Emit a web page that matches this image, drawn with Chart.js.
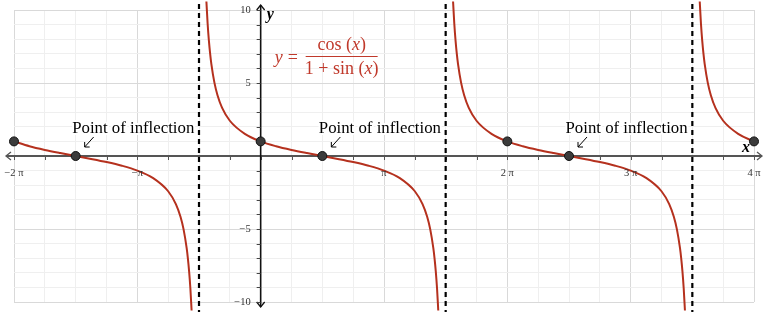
<!DOCTYPE html>
<html>
<head>
<meta charset="utf-8">
<script src="https://cdn.jsdelivr.net/npm/chart.js@4.4.1/dist/chart.umd.min.js"></script>
<style>
  html, body { margin: 0; padding: 0; background: #fff; }
  #wrap { width: 766px; height: 312px; }
</style>
</head>
<body>
<div id="wrap"><canvas id="plot"></canvas></div>
<script>
// x values are given in multiples of pi
const branch1X = [-2, -1.875, -1.75, -1.625, -1.5, -1.375, -1.25, -1.125, -1, -0.875, -0.75, -0.6875, -0.65, -0.625, -0.6, -0.59, -0.58, -0.57, -0.56];
const branch1Y = [1, 0.6682, 0.4142, 0.1989, 0, -0.1989, -0.4142, -0.6682, -1, -1.4966, -2.4142, -3.2966, -4.1653, -5.0273, -6.3138, -7.0264, -7.9158, -9.0579, -10.579];

const branch2X = [-0.44, -0.43, -0.42, -0.41, -0.4, -0.375, -0.35, -0.3125, -0.25, -0.125, 0, 0.125, 0.25, 0.375, 0.5, 0.625, 0.75, 0.875, 1, 1.125, 1.25, 1.3125, 1.35, 1.375, 1.4, 1.41, 1.42, 1.43, 1.44];
const branch2Y = [10.579, 9.0579, 7.9158, 7.0264, 6.3138, 5.0273, 4.1653, 3.2966, 2.4142, 1.4966, 1, 0.6682, 0.4142, 0.1989, 0, -0.1989, -0.4142, -0.6682, -1, -1.4966, -2.4142, -3.2966, -4.1653, -5.0273, -6.3138, -7.0264, -7.9158, -9.0579, -10.579];

const branch3X = [1.56, 1.57, 1.58, 1.59, 1.6, 1.625, 1.65, 1.6875, 1.75, 1.875, 2, 2.125, 2.25, 2.375, 2.5, 2.625, 2.75, 2.875, 3, 3.125, 3.25, 3.3125, 3.35, 3.375, 3.4, 3.41, 3.42, 3.43, 3.44];
const branch3Y = [10.579, 9.0579, 7.9158, 7.0264, 6.3138, 5.0273, 4.1653, 3.2966, 2.4142, 1.4966, 1, 0.6682, 0.4142, 0.1989, 0, -0.1989, -0.4142, -0.6682, -1, -1.4966, -2.4142, -3.2966, -4.1653, -5.0273, -6.3138, -7.0264, -7.9158, -9.0579, -10.579];

const branch4X = [3.56, 3.57, 3.58, 3.59, 3.6, 3.625, 3.65, 3.6875, 3.75, 3.875, 4];
const branch4Y = [10.579, 9.0579, 7.9158, 7.0264, 6.3138, 5.0273, 4.1653, 3.2966, 2.4142, 1.4966, 1];

const inflectionX = [-1.5, 0.5, 2.5];
const inflectionY = [0, 0, 0];
const dotX = [-2, 0, 2, 4];
const dotY = [1, 1, 1, 1];
const asymptoteX = [-0.5, 1.5, 3.5];

const xTickVals = [-2, -1, 1, 2, 3, 4];
const xTickLabels = ['\u22122 \u03c0', '\u2212\u03c0', '\u03c0', '2 \u03c0', '3 \u03c0', '4 \u03c0'];
const yTickVals = [10, 5, -5, -10];
const yTickLabels = ['10', '5', '\u22125', '\u221210'];
const noteText = 'Point of inflection';

const PI = Math.PI;
const toPts = (xs, ys) => xs.map((v, i) => ({ x: v * PI, y: ys[i] }));

const curveColor = '#b5311e';
const serif = "'Liberation Serif', 'DejaVu Serif', serif";

function curve(xs, ys) {
    return {
        data: toPts(xs, ys),
        showLine: true,
        borderColor: curveColor,
        borderWidth: 2,
        pointRadius: 0,
        cubicInterpolationMode: 'monotone',
        clip: false,
        order: 2
    };
}

const datasets = [];
asymptoteX.forEach(a => {
    datasets.push({
        data: [{ x: a * PI, y: -11.5 }, { x: a * PI, y: 11.5 }],
        showLine: true,
        borderColor: '#000',
        borderWidth: 2.2,
        borderDash: [5, 4],
        pointRadius: 0,
        clip: false,
        order: 3
    });
});
datasets.push(curve(branch1X, branch1Y));
datasets.push(curve(branch2X, branch2Y));
datasets.push(curve(branch3X, branch3Y));
datasets.push(curve(branch4X, branch4Y));
datasets.push({
    data: toPts(dotX.concat(inflectionX), dotY.concat(inflectionY)),
    showLine: false,
    pointRadius: 4.5,
    pointBackgroundColor: '#3b3b3b',
    pointBorderColor: '#111',
    pointBorderWidth: 1,
    clip: false,
    order: 1
});

function isMultiple(v, step) {
    const r = v / step;
    return Math.abs(r - Math.round(r)) < 1e-6;
}

// axes with arrows, small tick marks
const axesPlugin = {
    id: 'axes',
    beforeDatasetsDraw(chart) {
        const { ctx } = chart;
        const xs = chart.scales.x, ys = chart.scales.y;
        const x0 = xs.getPixelForValue(0), y0 = ys.getPixelForValue(0);
        const left = xs.left - 8, right = xs.right + 8;
        const top = ys.top - 5, bottom = ys.bottom + 5;
        ctx.save();

        // x axis
        ctx.strokeStyle = '#555';
        ctx.lineWidth = 2;
        ctx.beginPath();
        ctx.moveTo(left, y0); ctx.lineTo(right, y0);
        ctx.stroke();
        ctx.lineWidth = 1.3;
        ctx.beginPath();
        ctx.moveTo(left + 5, y0 - 4); ctx.lineTo(left, y0); ctx.lineTo(left + 5, y0 + 4);
        ctx.moveTo(right - 5, y0 - 4); ctx.lineTo(right, y0); ctx.lineTo(right - 5, y0 + 4);
        ctx.stroke();
        ctx.lineWidth = 1;
        ctx.beginPath();
        for (let k = -8; k <= 16; k++) {
            const px = Math.round(xs.getPixelForValue(k * PI / 4)) + 0.5;
            ctx.moveTo(px, y0); ctx.lineTo(px, y0 + 4);
        }
        ctx.stroke();

        // y axis
        ctx.strokeStyle = '#111';
        ctx.lineWidth = 1.6;
        ctx.beginPath();
        ctx.moveTo(x0, top); ctx.lineTo(x0, bottom);
        ctx.stroke();
        ctx.lineWidth = 1.3;
        ctx.beginPath();
        ctx.moveTo(x0 - 4, top + 5); ctx.lineTo(x0, top); ctx.lineTo(x0 + 4, top + 5);
        ctx.moveTo(x0 - 4, bottom - 5); ctx.lineTo(x0, bottom); ctx.lineTo(x0 + 4, bottom - 5);
        ctx.stroke();
        ctx.lineWidth = 1;
        ctx.strokeStyle = '#444';
        ctx.beginPath();
        for (let v = -10; v <= 10; v++) {
            if (v === 0) continue;
            const py = Math.round(ys.getPixelForValue(v)) + 0.5;
            ctx.moveTo(x0 - 4, py); ctx.lineTo(x0, py);
        }
        ctx.stroke();
        ctx.restore();
    }
};

function drawRich(ctx, parts, cx, baseline) {
    let total = 0;
    parts.forEach(p => { ctx.font = p[1]; total += ctx.measureText(p[0]).width; });
    let x = cx - total / 2;
    parts.forEach(p => {
        ctx.font = p[1];
        ctx.fillText(p[0], x, baseline);
        x += ctx.measureText(p[0]).width;
    });
    return total;
}

// tick labels, axis names, formula and notes
const labelsPlugin = {
    id: 'labels',
    afterDraw(chart) {
        const { ctx } = chart;
        const xs = chart.scales.x, ys = chart.scales.y;
        const x0 = xs.getPixelForValue(0), y0 = ys.getPixelForValue(0);
        ctx.save();

        ctx.fillStyle = '#333';
        ctx.font = '10.5px ' + serif;
        ctx.textAlign = 'center';
        ctx.textBaseline = 'middle';
        xTickVals.forEach((v, i) => {
            ctx.fillText(xTickLabels[i], xs.getPixelForValue(v * PI), y0 + 17);
        });
        ctx.textAlign = 'right';
        yTickVals.forEach((v, i) => {
            ctx.fillText(yTickLabels[i], x0 - 10, ys.getPixelForValue(v));
        });

        // axis names
        ctx.fillStyle = '#000';
        ctx.textAlign = 'left';
        ctx.font = 'bold italic 16px ' + serif;
        ctx.fillText('y', x0 + 6, ys.top + 5);
        ctx.fillText('x', xs.right - 12, y0 - 8);

        // notes
        ctx.font = '16.8px ' + serif;
        ctx.textBaseline = 'alphabetic';
        inflectionX.forEach((v, i) => {
            const px = xs.getPixelForValue(v * PI);
            const py = ys.getPixelForValue(inflectionY[i]);
            ctx.strokeStyle = '#fff';
            ctx.lineWidth = 4;
            ctx.lineJoin = 'round';
            ctx.strokeText(noteText, px - 3.5, py - 23);
            ctx.fillStyle = '#000';
            ctx.fillText(noteText, px - 3.5, py - 23);
            ctx.strokeStyle = '#000';
            ctx.lineWidth = 1;
            ctx.beginPath();
            ctx.moveTo(px + 18, py - 19); ctx.lineTo(px + 9, py - 9);
            ctx.moveTo(px + 9, py - 14); ctx.lineTo(px + 9, py - 9); ctx.lineTo(px + 14, py - 9);
            ctx.stroke();
        });

        // formula
        const fc = '#c0392b';
        const reg = '18px ' + serif, ital = 'italic 18px ' + serif;
        const fx = xs.getPixelForValue(0) + 45;
        ctx.fillStyle = fc;
        ctx.textAlign = 'left';
        ctx.font = ital;
        ctx.fillText('y', fx - 31, 63);
        ctx.font = reg;
        ctx.fillText('=', fx - 18, 63);
        drawRich(ctx, [['cos (', reg], ['x', ital], [')', reg]], fx + 36, 50);
        drawRich(ctx, [['1 + sin (', reg], ['x', ital], [')', reg]], fx + 36, 74);
        ctx.strokeStyle = fc;
        ctx.lineWidth = 1;
        ctx.beginPath();
        ctx.moveTo(fx, 56.5); ctx.lineTo(fx + 72, 56.5);
        ctx.stroke();
        ctx.restore();
    }
};

new Chart(document.getElementById('plot'), {
    type: 'scatter',
    data: { datasets: datasets },
    options: {
        responsive: true,
        maintainAspectRatio: false,
        animation: false,
        layout: { padding: { left: 14, right: 12, top: 10, bottom: 10 } },
        plugins: { legend: { display: false }, tooltip: { enabled: false } },
        scales: {
            x: {
                type: 'linear',
                min: -2 * PI,
                max: 4 * PI,
                afterBuildTicks(scale) {
                    const t = [];
                    for (let k = -8; k <= 16; k++) t.push({ value: k * PI / 4 });
                    scale.ticks = t;
                },
                ticks: { display: false },
                border: { display: false },
                grid: {
                    drawTicks: false,
                    color: c => isMultiple(c.tick.value, PI) ? '#d9d9d9' : '#efefef'
                }
            },
            y: {
                type: 'linear',
                min: -10,
                max: 10,
                ticks: { display: false, stepSize: 1 },
                border: { display: false },
                grid: {
                    drawTicks: false,
                    color: c => c.tick.value % 5 === 0 ? '#d9d9d9' : '#efefef'
                }
            }
        }
    },
    plugins: [axesPlugin, labelsPlugin]
});
</script>
</body>
</html>
